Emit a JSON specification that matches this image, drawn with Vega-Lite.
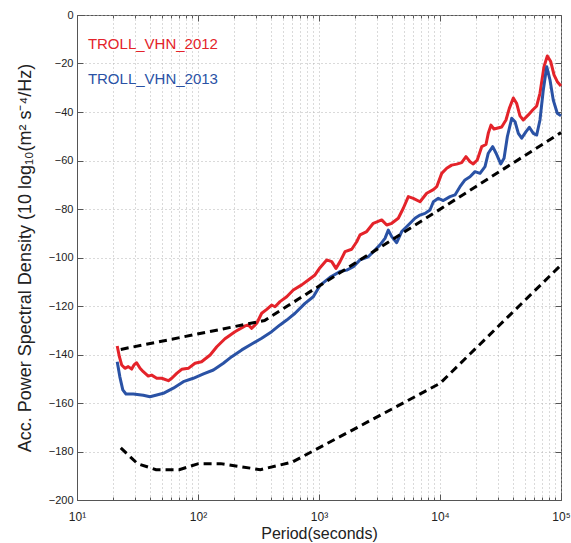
{
  "$schema": "https://vega.github.io/schema/vega-lite/v6.json",
  "width": 484,
  "height": 485,
  "autosize": "none",
  "padding": {"left": 77, "top": 15, "right": 10, "bottom": 43},
  "background": "white",
  "config": {
    "font": "Liberation Sans",
    "view": {"stroke": "#555", "strokeWidth": 1},
    "axis": {"domainColor": "#555", "tickColor": "#555", "labelColor": "#222", "titleColor": "#222", "labelFont": "Liberation Sans", "titleFont": "Liberation Sans", "titleFontWeight": "normal"}
  },
  "datasets": {
    "psd": [
      {"series": "TROLL_VHN_2012", "period": 21.5, "psd": -136.5},
      {"series": "TROLL_VHN_2012", "period": 22.4, "psd": -140.9},
      {"series": "TROLL_VHN_2012", "period": 23.4, "psd": -144.3},
      {"series": "TROLL_VHN_2012", "period": 24.9, "psd": -145.7},
      {"series": "TROLL_VHN_2012", "period": 26.5, "psd": -145.0},
      {"series": "TROLL_VHN_2012", "period": 28.3, "psd": -146.0},
      {"series": "TROLL_VHN_2012", "period": 29.6, "psd": -144.3},
      {"series": "TROLL_VHN_2012", "period": 31.1, "psd": -143.4},
      {"series": "TROLL_VHN_2012", "period": 33.2, "psd": -145.7},
      {"series": "TROLL_VHN_2012", "period": 35.3, "psd": -147.1},
      {"series": "TROLL_VHN_2012", "period": 38.8, "psd": -148.9},
      {"series": "TROLL_VHN_2012", "period": 41.4, "psd": -148.5},
      {"series": "TROLL_VHN_2012", "period": 45.6, "psd": -149.8},
      {"series": "TROLL_VHN_2012", "period": 50.1, "psd": -149.8},
      {"series": "TROLL_VHN_2012", "period": 56.9, "psd": -150.8},
      {"series": "TROLL_VHN_2012", "period": 60.7, "psd": -149.8},
      {"series": "TROLL_VHN_2012", "period": 66.7, "psd": -147.8},
      {"series": "TROLL_VHN_2012", "period": 73.3, "psd": -146.1},
      {"series": "TROLL_VHN_2012", "period": 83.2, "psd": -145.7},
      {"series": "TROLL_VHN_2012", "period": 94.5, "psd": -143.6},
      {"series": "TROLL_VHN_2012", "period": 107, "psd": -143.0},
      {"series": "TROLL_VHN_2012", "period": 126, "psd": -140.2},
      {"series": "TROLL_VHN_2012", "period": 143, "psd": -136.8},
      {"series": "TROLL_VHN_2012", "period": 167, "psd": -133.5},
      {"series": "TROLL_VHN_2012", "period": 202, "psd": -130.6},
      {"series": "TROLL_VHN_2012", "period": 245, "psd": -128.2},
      {"series": "TROLL_VHN_2012", "period": 260, "psd": -127.8},
      {"series": "TROLL_VHN_2012", "period": 278, "psd": -129.2},
      {"series": "TROLL_VHN_2012", "period": 306, "psd": -127.1},
      {"series": "TROLL_VHN_2012", "period": 336, "psd": -123.0},
      {"series": "TROLL_VHN_2012", "period": 370, "psd": -121.4},
      {"series": "TROLL_VHN_2012", "period": 406, "psd": -119.6},
      {"series": "TROLL_VHN_2012", "period": 433, "psd": -120.3},
      {"series": "TROLL_VHN_2012", "period": 476, "psd": -118.2},
      {"series": "TROLL_VHN_2012", "period": 541, "psd": -116.2},
      {"series": "TROLL_VHN_2012", "period": 613, "psd": -113.4},
      {"series": "TROLL_VHN_2012", "period": 720, "psd": -111.3},
      {"series": "TROLL_VHN_2012", "period": 816, "psd": -109.3},
      {"series": "TROLL_VHN_2012", "period": 927, "psd": -107.2},
      {"series": "TROLL_VHN_2012", "period": 1019, "psd": -104.2},
      {"series": "TROLL_VHN_2012", "period": 1158, "psd": -101.0},
      {"series": "TROLL_VHN_2012", "period": 1274, "psd": -101.7},
      {"series": "TROLL_VHN_2012", "period": 1381, "psd": -104.5},
      {"series": "TROLL_VHN_2012", "period": 1492, "psd": -101.7},
      {"series": "TROLL_VHN_2012", "period": 1641, "psd": -97.6},
      {"series": "TROLL_VHN_2012", "period": 1864, "psd": -96.6},
      {"series": "TROLL_VHN_2012", "period": 2050, "psd": -93.5},
      {"series": "TROLL_VHN_2012", "period": 2183, "psd": -90.7},
      {"series": "TROLL_VHN_2012", "period": 2479, "psd": -89.3},
      {"series": "TROLL_VHN_2012", "period": 2810, "psd": -85.9},
      {"series": "TROLL_VHN_2012", "period": 3298, "psd": -84.5},
      {"series": "TROLL_VHN_2012", "period": 3629, "psd": -86.6},
      {"series": "TROLL_VHN_2012", "period": 3991, "psd": -85.9},
      {"series": "TROLL_VHN_2012", "period": 4522, "psd": -83.8},
      {"series": "TROLL_VHN_2012", "period": 4975, "psd": -79.7},
      {"series": "TROLL_VHN_2012", "period": 5473, "psd": -74.9},
      {"series": "TROLL_VHN_2012", "period": 6017, "psd": -75.6},
      {"series": "TROLL_VHN_2012", "period": 6838, "psd": -77.0},
      {"series": "TROLL_VHN_2012", "period": 7766, "psd": -73.5},
      {"series": "TROLL_VHN_2012", "period": 8813, "psd": -72.0},
      {"series": "TROLL_VHN_2012", "period": 9395, "psd": -70.8},
      {"series": "TROLL_VHN_2012", "period": 10330, "psd": -65.3},
      {"series": "TROLL_VHN_2012", "period": 11360, "psd": -63.2},
      {"series": "TROLL_VHN_2012", "period": 12490, "psd": -61.9},
      {"series": "TROLL_VHN_2012", "period": 13740, "psd": -61.5},
      {"series": "TROLL_VHN_2012", "period": 15100, "psd": -60.9},
      {"series": "TROLL_VHN_2012", "period": 16400, "psd": -58.4},
      {"series": "TROLL_VHN_2012", "period": 17700, "psd": -60.5},
      {"series": "TROLL_VHN_2012", "period": 18840, "psd": -61.4},
      {"series": "TROLL_VHN_2012", "period": 20320, "psd": -59.8},
      {"series": "TROLL_VHN_2012", "period": 22120, "psd": -54.3},
      {"series": "TROLL_VHN_2012", "period": 23990, "psd": -53.4},
      {"series": "TROLL_VHN_2012", "period": 25060, "psd": -48.8},
      {"series": "TROLL_VHN_2012", "period": 26380, "psd": -45.4},
      {"series": "TROLL_VHN_2012", "period": 27920, "psd": -47.0},
      {"series": "TROLL_VHN_2012", "period": 29560, "psd": -46.7},
      {"series": "TROLL_VHN_2012", "period": 32340, "psd": -46.2},
      {"series": "TROLL_VHN_2012", "period": 35090, "psd": -43.3},
      {"series": "TROLL_VHN_2012", "period": 37400, "psd": -38.5},
      {"series": "TROLL_VHN_2012", "period": 40360, "psd": -34.2},
      {"series": "TROLL_VHN_2012", "period": 43050, "psd": -36.5},
      {"series": "TROLL_VHN_2012", "period": 45820, "psd": -41.6},
      {"series": "TROLL_VHN_2012", "period": 48770, "psd": -43.3},
      {"series": "TROLL_VHN_2012", "period": 53680, "psd": -41.2},
      {"series": "TROLL_VHN_2012", "period": 58360, "psd": -39.2},
      {"series": "TROLL_VHN_2012", "period": 62990, "psd": -37.5},
      {"series": "TROLL_VHN_2012", "period": 67020, "psd": -32.3},
      {"series": "TROLL_VHN_2012", "period": 72370, "psd": -21.3},
      {"series": "TROLL_VHN_2012", "period": 77090, "psd": -16.9},
      {"series": "TROLL_VHN_2012", "period": 82230, "psd": -19.2},
      {"series": "TROLL_VHN_2012", "period": 87560, "psd": -24.7},
      {"series": "TROLL_VHN_2012", "period": 93160, "psd": -27.5},
      {"series": "TROLL_VHN_2012", "period": 100000, "psd": -29.3},
      {"series": "TROLL_VHN_2013", "period": 21.5, "psd": -143.0},
      {"series": "TROLL_VHN_2013", "period": 22.6, "psd": -149.2},
      {"series": "TROLL_VHN_2013", "period": 23.9, "psd": -154.6},
      {"series": "TROLL_VHN_2013", "period": 25.4, "psd": -156.3},
      {"series": "TROLL_VHN_2013", "period": 29.2, "psd": -156.3},
      {"series": "TROLL_VHN_2013", "period": 35.3, "psd": -156.8},
      {"series": "TROLL_VHN_2013", "period": 40.1, "psd": -157.4},
      {"series": "TROLL_VHN_2013", "period": 45.6, "psd": -156.7},
      {"series": "TROLL_VHN_2013", "period": 51.7, "psd": -156.0},
      {"series": "TROLL_VHN_2013", "period": 62.5, "psd": -153.9},
      {"series": "TROLL_VHN_2013", "period": 75.7, "psd": -151.2},
      {"series": "TROLL_VHN_2013", "period": 91.4, "psd": -149.8},
      {"series": "TROLL_VHN_2013", "period": 111, "psd": -148.0},
      {"series": "TROLL_VHN_2013", "period": 134, "psd": -146.4},
      {"series": "TROLL_VHN_2013", "period": 162, "psd": -143.6},
      {"series": "TROLL_VHN_2013", "period": 190, "psd": -140.9},
      {"series": "TROLL_VHN_2013", "period": 230, "psd": -138.1},
      {"series": "TROLL_VHN_2013", "period": 278, "psd": -135.7},
      {"series": "TROLL_VHN_2013", "period": 336, "psd": -133.3},
      {"series": "TROLL_VHN_2013", "period": 406, "psd": -130.6},
      {"series": "TROLL_VHN_2013", "period": 476, "psd": -127.8},
      {"series": "TROLL_VHN_2013", "period": 541, "psd": -125.8},
      {"series": "TROLL_VHN_2013", "period": 634, "psd": -123.0},
      {"series": "TROLL_VHN_2013", "period": 766, "psd": -118.9},
      {"series": "TROLL_VHN_2013", "period": 897, "psd": -116.2},
      {"series": "TROLL_VHN_2013", "period": 1019, "psd": -111.5},
      {"series": "TROLL_VHN_2013", "period": 1233, "psd": -108.2},
      {"series": "TROLL_VHN_2013", "period": 1492, "psd": -105.8},
      {"series": "TROLL_VHN_2013", "period": 1695, "psd": -105.2},
      {"series": "TROLL_VHN_2013", "period": 1923, "psd": -103.8},
      {"series": "TROLL_VHN_2013", "period": 2183, "psd": -101.0},
      {"series": "TROLL_VHN_2013", "period": 2555, "psd": -99.7},
      {"series": "TROLL_VHN_2013", "period": 2903, "psd": -96.9},
      {"series": "TROLL_VHN_2013", "period": 3193, "psd": -94.8},
      {"series": "TROLL_VHN_2013", "period": 3511, "psd": -92.1},
      {"series": "TROLL_VHN_2013", "period": 3740, "psd": -88.7},
      {"series": "TROLL_VHN_2013", "period": 3991, "psd": -91.4},
      {"series": "TROLL_VHN_2013", "period": 4387, "psd": -93.9},
      {"series": "TROLL_VHN_2013", "period": 4824, "psd": -89.3},
      {"series": "TROLL_VHN_2013", "period": 5473, "psd": -86.6},
      {"series": "TROLL_VHN_2013", "period": 6215, "psd": -83.8},
      {"series": "TROLL_VHN_2013", "period": 6838, "psd": -82.5},
      {"series": "TROLL_VHN_2013", "period": 7520, "psd": -81.8},
      {"series": "TROLL_VHN_2013", "period": 8265, "psd": -80.4},
      {"series": "TROLL_VHN_2013", "period": 8813, "psd": -77.0},
      {"series": "TROLL_VHN_2013", "period": 9690, "psd": -75.6},
      {"series": "TROLL_VHN_2013", "period": 10650, "psd": -76.5},
      {"series": "TROLL_VHN_2013", "period": 12100, "psd": -74.9},
      {"series": "TROLL_VHN_2013", "period": 13300, "psd": -74.2},
      {"series": "TROLL_VHN_2013", "period": 14630, "psd": -70.8},
      {"series": "TROLL_VHN_2013", "period": 16090, "psd": -68.0},
      {"series": "TROLL_VHN_2013", "period": 17700, "psd": -66.7},
      {"series": "TROLL_VHN_2013", "period": 19460, "psd": -64.6},
      {"series": "TROLL_VHN_2013", "period": 21410, "psd": -65.3},
      {"series": "TROLL_VHN_2013", "period": 23550, "psd": -62.5},
      {"series": "TROLL_VHN_2013", "period": 25060, "psd": -57.0},
      {"series": "TROLL_VHN_2013", "period": 27270, "psd": -54.3},
      {"series": "TROLL_VHN_2013", "period": 29060, "psd": -57.0},
      {"series": "TROLL_VHN_2013", "period": 31760, "psd": -61.4},
      {"series": "TROLL_VHN_2013", "period": 33830, "psd": -59.1},
      {"series": "TROLL_VHN_2013", "period": 36010, "psd": -50.2},
      {"series": "TROLL_VHN_2013", "period": 39140, "psd": -42.6},
      {"series": "TROLL_VHN_2013", "period": 41700, "psd": -44.0},
      {"series": "TROLL_VHN_2013", "period": 44400, "psd": -48.8},
      {"series": "TROLL_VHN_2013", "period": 47320, "psd": -50.8},
      {"series": "TROLL_VHN_2013", "period": 51400, "psd": -48.1},
      {"series": "TROLL_VHN_2013", "period": 54720, "psd": -46.3},
      {"series": "TROLL_VHN_2013", "period": 59060, "psd": -48.8},
      {"series": "TROLL_VHN_2013", "period": 62990, "psd": -49.5},
      {"series": "TROLL_VHN_2013", "period": 67020, "psd": -43.3},
      {"series": "TROLL_VHN_2013", "period": 71410, "psd": -30.9},
      {"series": "TROLL_VHN_2013", "period": 76200, "psd": -21.3},
      {"series": "TROLL_VHN_2013", "period": 81120, "psd": -26.8},
      {"series": "TROLL_VHN_2013", "period": 86340, "psd": -35.1},
      {"series": "TROLL_VHN_2013", "period": 93160, "psd": -40.5},
      {"series": "TROLL_VHN_2013", "period": 100000, "psd": -41.6}
    ],
    "models": [
      {"series": "NHNM", "period": 23, "psd": -137.9},
      {"series": "NHNM", "period": 354.8, "psd": -126.0},
      {"series": "NHNM", "period": 100000, "psd": -48.5},
      {"series": "NLNM", "period": 23, "psd": -178.5},
      {"series": "NLNM", "period": 31.6, "psd": -185.0},
      {"series": "NLNM", "period": 45, "psd": -187.5},
      {"series": "NLNM", "period": 70, "psd": -187.5},
      {"series": "NLNM", "period": 101, "psd": -185.0},
      {"series": "NLNM", "period": 154, "psd": -185.0},
      {"series": "NLNM", "period": 328, "psd": -187.5},
      {"series": "NLNM", "period": 600, "psd": -184.4},
      {"series": "NLNM", "period": 10000, "psd": -151.9},
      {"series": "NLNM", "period": 100000, "psd": -103.1}
    ],
    "labels": [
      {"series": "TROLL_VHN_2012", "period": 12.3, "psd": -12.0},
      {"series": "TROLL_VHN_2013", "period": 12.3, "psd": -26.4}
    ]
  },
  "layer": [
    {
      "data": {"name": "psd"},
      "mark": {"type": "line", "strokeWidth": 3, "strokeJoin": "round", "strokeCap": "butt"},
      "encoding": {
        "x": {
          "field": "period", "type": "quantitative",
          "scale": {"type": "log", "domain": [10, 100000], "nice": false},
          "axis": {
            "orient": "bottom",
            "title": "Period(seconds)",
            "titleFontSize": 16,
            "titlePadding": 0,
            "values": [10,20,30,40,50,60,70,80,90,100,200,300,400,500,600,700,800,900,1000,2000,3000,4000,5000,6000,7000,8000,9000,10000,20000,30000,40000,50000,60000,70000,80000,90000,100000],
            "labelExpr": "datum.value == 10 ? '10¹' : datum.value == 100 ? '10²' : datum.value == 1000 ? '10³' : datum.value == 10000 ? '10⁴' : datum.value == 100000 ? '10⁵' : ''",
            "labelOverlap": false,
            "labelFlush": false,
            "labelFontSize": 12,
            "labelPadding": 17,
            "tickSize": {"condition": {"test": "abs(log(datum.value)/LN10 - round(log(datum.value)/LN10)) < 0.001", "value": -6}, "value": -3},
            "grid": true,
            "gridDash": [1, 3],
            "gridColor": "#b5b5b5",
            "gridWidth": 1
          }
        },
        "y": {
          "field": "psd", "type": "quantitative",
          "scale": {"domain": [-200, 0], "nice": false, "zero": false},
          "axis": {
            "orient": "left",
            "title": "Acc. Power Spectral Density (10 log₁₀(m² s⁻⁴/Hz)",
            "titleFontSize": 18,
            "titlePadding": 14,
            "values": [-200,-180,-160,-140,-120,-100,-80,-60,-40,-20,0],
            "labelFontSize": 11,
            "labelPadding": 10,
            "tickSize": -6,
            "grid": true,
            "gridDash": [1, 3],
            "gridColor": "#b5b5b5",
            "gridWidth": 1
          }
        },
        "color": {
          "field": "series", "type": "nominal",
          "scale": {"domain": ["TROLL_VHN_2012", "TROLL_VHN_2013"], "range": ["#e4232a", "#2a52a5"]},
          "legend": null
        }
      }
    },
    {
      "data": {"name": "models"},
      "mark": {"type": "line", "strokeWidth": 3, "color": "black", "strokeDash": [8, 5]},
      "encoding": {
        "x": {
          "field": "period", "type": "quantitative",
          "scale": {"type": "log", "domain": [10, 100000], "nice": false},
          "axis": {
            "orient": "top", "title": null, "labels": false, "grid": false, "domain": false,
            "values": [10,20,30,40,50,60,70,80,90,100,200,300,400,500,600,700,800,900,1000,2000,3000,4000,5000,6000,7000,8000,9000,10000,20000,30000,40000,50000,60000,70000,80000,90000,100000],
            "tickSize": {"condition": {"test": "abs(log(datum.value)/LN10 - round(log(datum.value)/LN10)) < 0.001", "value": -6}, "value": -3}
          }
        },
        "y": {
          "field": "psd", "type": "quantitative",
          "scale": {"domain": [-200, 0], "nice": false, "zero": false},
          "axis": {
            "orient": "right", "title": null, "labels": false, "grid": false, "domain": false,
            "values": [-200,-180,-160,-140,-120,-100,-80,-60,-40,-20,0],
            "tickSize": -6
          }
        },
        "detail": {"field": "series", "type": "nominal"}
      }
    },
    {
      "data": {"name": "labels"},
      "mark": {"type": "text", "align": "left", "baseline": "middle", "fontSize": 15, "font": "Liberation Sans"},
      "encoding": {
        "x": {"field": "period", "type": "quantitative", "scale": {"type": "log", "domain": [10, 100000], "nice": false}, "axis": null},
        "y": {"field": "psd", "type": "quantitative", "scale": {"domain": [-200, 0], "nice": false, "zero": false}, "axis": null},
        "text": {"field": "series", "type": "nominal"},
        "color": {
          "field": "series", "type": "nominal",
          "scale": {"domain": ["TROLL_VHN_2012", "TROLL_VHN_2013"], "range": ["#e4232a", "#2a52a5"]},
          "legend": null
        }
      }
    }
  ],
  "resolve": {"axis": {"x": "independent", "y": "independent"}}
}
